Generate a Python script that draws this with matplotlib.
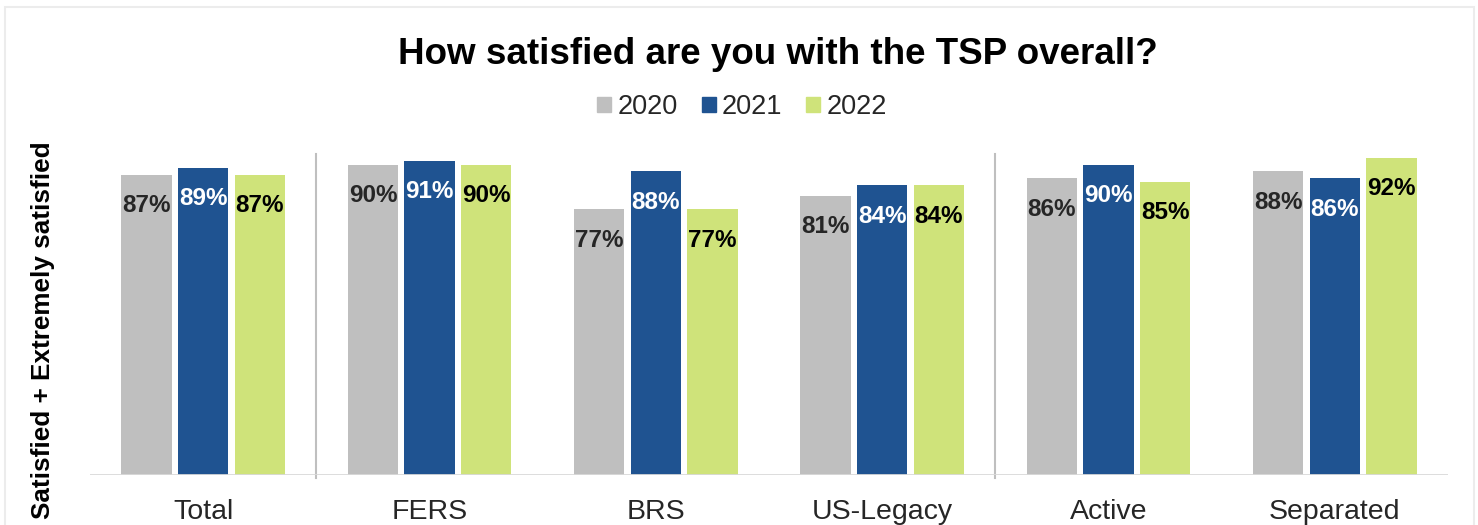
import matplotlib.pyplot as plt
from matplotlib.patches import Patch, Rectangle
import numpy as np

plt.rcParams['font.family'] = ['Liberation Sans', 'DejaVu Sans']

categories = ['Total', 'FERS', 'BRS', 'US-Legacy', 'Active', 'Separated']
years = ['2020', '2021', '2022']
vals_2020 = [87, 90, 77, 81, 86, 88]
vals_2021 = [89, 91, 88, 84, 90, 86]
vals_2022 = [87, 90, 77, 84, 85, 92]

colors = ['#bfbfbf', '#1f5391', '#cfe37a']
label_colors = ['#262626', 'white', 'black']

fig = plt.figure(figsize=(14.78, 5.25), dpi=100)
# light frame around the chart area
fig.patches.append(Rectangle((5 / 1478, -0.1), 1469 / 1478, 1.1 - 7 / 525,
                             transform=fig.transFigure, fill=False,
                             edgecolor='#ececec', lw=1.5))

ax = fig.add_axes([90 / 1478, 1 - 475 / 525, 1358 / 1478, 345 / 525])
x = np.arange(len(categories))
w = 0.222
offsets = [-0.25, 0, 0.25]

for i, vals in enumerate([vals_2020, vals_2021, vals_2022]):
    ax.bar(x + offsets[i], vals, width=w, color=colors[i], label=years[i])
    for xi, v in zip(x + offsets[i], vals):
        ax.annotate(f'{v}%', (xi, v), xytext=(0, -14), textcoords='offset points',
                    ha='center', va='top', fontsize=17.5, fontweight='bold',
                    color=label_colors[i])

ax.set_xlim(-0.5, len(categories) - 0.5)
ax.set_ylim(0, 100)
ax.axhline(0, color='#d9d9d9', lw=2, zorder=3)
for sx in [0.5, 3.5]:
    ax.plot([sx, sx], [-0.8, 93], color='#bfbfbf', lw=1.5, clip_on=False)

for s in ax.spines.values():
    s.set_visible(False)
ax.set_yticks([])
ax.set_xticks(x)
ax.set_xticklabels(categories, fontsize=20.5, color='#262626')
ax.tick_params(axis='x', length=0, pad=17)

fig.text(778 / 1478, 1 - 54 / 525, 'How satisfied are you with the TSP overall?',
         ha='center', va='center', fontsize=26.5, fontweight='bold')
fig.text(43 / 1478, 1 - 330 / 525, 'Satisfied + Extremely satisfied',
         ha='center', va='center', rotation=90, fontsize=18.8, fontweight='bold')

handles = [Patch(color=c, label=y) for c, y in zip(colors, years)]
fig.legend(handles=handles, loc='center', bbox_to_anchor=(742 / 1478, 1 - 107 / 525),
           ncol=3, frameon=False, fontsize=19.5, handlelength=0.52, handleheight=0.52,
           handletextpad=0.22, columnspacing=0.89, labelcolor='#262626')

fig.savefig('out.png', dpi=100)
